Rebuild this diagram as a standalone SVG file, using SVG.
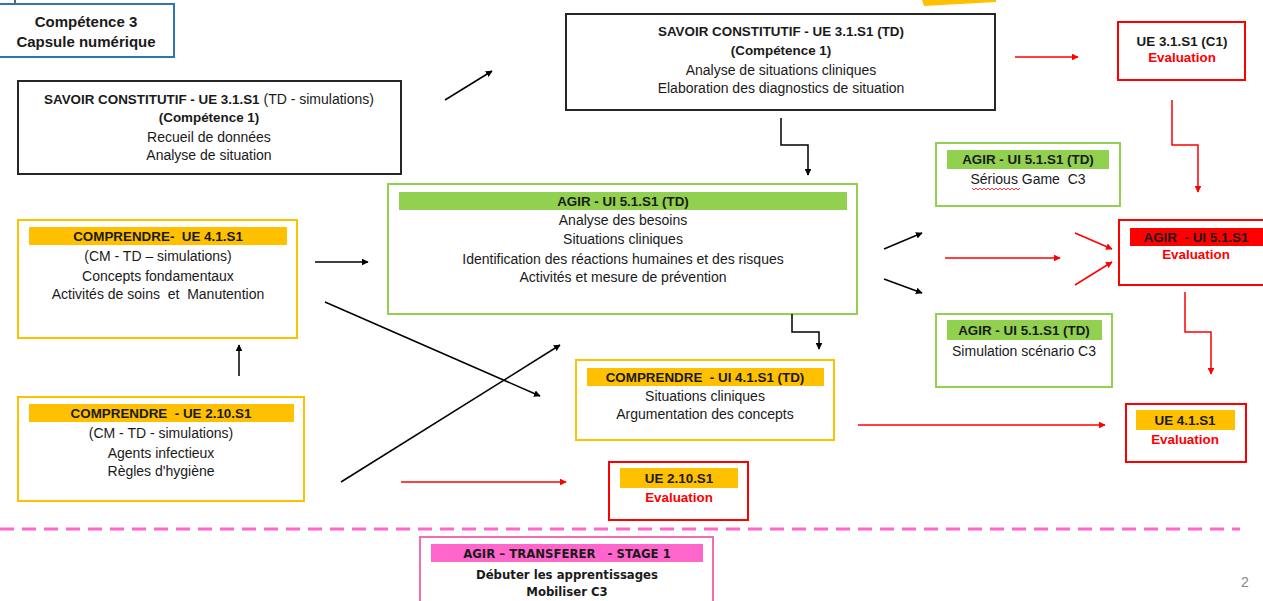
<svg xmlns="http://www.w3.org/2000/svg" width="1263" height="601" viewBox="0 0 1263 601">
<defs>
<marker id="ab" viewBox="0 0 10 10" refX="9" refY="5" markerWidth="4.5" markerHeight="4.5" orient="auto" markerUnits="strokeWidth"><path d="M0,0 L10,5 L0,10 z" fill="#000"/></marker>
<marker id="ar" viewBox="0 0 10 10" refX="9" refY="5" markerWidth="4.5" markerHeight="4.5" orient="auto" markerUnits="strokeWidth"><path d="M0,0 L10,5 L0,10 z" fill="#FF0000"/></marker>
</defs>
<style>
text{font-family:"Liberation Sans",Arial,sans-serif;font-size:14px;fill:#1a1a1a;text-anchor:middle;white-space:pre}
.b{font-weight:bold;font-size:13.4px}
.r{fill:#FF0000;font-weight:bold;font-size:13.4px}
.bk{fill:#fff;stroke:#262626;stroke-width:2}
.yb{fill:#fff;stroke:#FFC000;stroke-width:2}
.gb{fill:#fff;stroke:#92D050;stroke-width:2}
.rb{fill:#fff;stroke:#FF0000;stroke-width:2}
.yh{fill:#FFC000}
.gh{fill:#92D050}
.cb{fill:none;stroke:#000;stroke-width:1.5;marker-end:url(#ab)}
.cr{fill:none;stroke:#FF0000;stroke-width:1.5;marker-end:url(#ar)}
.n{font-family:"Liberation Sans Narrow","DejaVu Sans Condensed",sans-serif;font-weight:bold;font-size:13px}
</style>
<rect width="1263" height="601" fill="#fff"/>
<polygon points="922,0 996,0 996,2 924,6" fill="#FFC000"/>
<line x1="15" y1="0" x2="15" y2="4" stroke="#333" stroke-width="1.5"/>

<g id="competence3">
<rect x="-2" y="4" width="176" height="53" fill="#fff" stroke="#2E75B6" stroke-width="2"/>
<text x="86" y="27" class="b" style="font-size:15px">Compétence 3</text>
<text x="86" y="47" class="b" style="font-size:15px">Capsule numérique</text>
</g>

<g id="savoir1">
<rect x="18" y="81" width="383" height="93" class="bk"/>
<text x="209" y="104"><tspan class="b">SAVOIR CONSTITUTIF - UE 3.1.S1</tspan> (TD - simulations)</text>
<text x="209" y="122" class="b">(Compétence 1)</text>
<text x="209" y="142">Recueil de données</text>
<text x="209" y="160">Analyse de situation</text>
</g>

<g id="savoir2">
<rect x="566" y="14" width="429" height="96" class="bk"/>
<text x="781" y="36" class="b">SAVOIR CONSTITUTIF - UE 3.1.S1 (TD)</text>
<text x="781" y="55" class="b">(Compétence 1)</text>
<text x="781" y="75">Analyse de situations cliniques</text>
<text x="781" y="93">Elaboration des diagnostics de situation</text>
</g>

<g id="eval31">
<rect x="1118" y="22" width="127" height="58" class="rb"/>
<text x="1182" y="46" class="b">UE 3.1.S1 (C1)</text>
<text x="1182" y="62" class="r">Evaluation</text>
</g>

<g id="agir">
<rect x="388" y="184" width="469" height="130" class="gb"/>
<rect x="399" y="192" width="448" height="18" class="gh"/>
<text x="623" y="206" class="b">AGIR - UI 5.1.S1 (TD)</text>
<text x="623" y="225">Analyse des besoins</text>
<text x="623" y="244">Situations cliniques</text>
<text x="623" y="264">Identification des réactions humaines et des risques</text>
<text x="623" y="282">Activités et mesure de prévention</text>
</g>

<g id="comprendre41">
<rect x="18" y="220" width="279" height="118" class="yb"/>
<rect x="29" y="227" width="258" height="18" class="yh"/>
<text x="158" y="241" class="b">COMPRENDRE-  UE 4.1.S1</text>
<text x="158" y="261">(CM - TD – simulations)</text>
<text x="158" y="281">Concepts fondamentaux</text>
<text x="158" y="299">Activités de soins  et  Manutention</text>
</g>

<g id="comprendre210">
<rect x="18" y="397" width="286" height="104" class="yb"/>
<rect x="29" y="404" width="265" height="18" class="yh"/>
<text x="161" y="418" class="b">COMPRENDRE  - UE 2.10.S1</text>
<text x="161" y="438">(CM - TD - simulations)</text>
<text x="161" y="458">Agents infectieux</text>
<text x="161" y="476">Règles d'hygiène</text>
</g>

<g id="comprendreUI41">
<rect x="576" y="360" width="258" height="80" class="yb"/>
<rect x="587" y="368" width="237" height="18" class="yh"/>
<text x="705" y="382" class="b">COMPRENDRE  - UI 4.1.S1 (TD)</text>
<text x="705" y="401">Situations cliniques</text>
<text x="705" y="419">Argumentation des concepts</text>
</g>

<g id="serious">
<rect x="936" y="143" width="184" height="63" class="gb"/>
<rect x="947" y="150" width="162" height="19" class="gh"/>
<text x="1028" y="164" class="b">AGIR - UI 5.1.S1 (TD)</text>
<text x="1028" y="184">Sérious Game  C3</text>
<path d="M972,188 l2,2 l2,-2 l2,2 l2,-2 l2,2 l2,-2 l2,2 l2,-2 l2,2 l2,-2 l2,2 l2,-2 l2,2 l2,-2 l2,2 l2,-2 l2,2 l2,-2 l2,2 l2,-2 l2,2 l2,-2 l2,2 l2,-2" fill="none" stroke="#FF0000" stroke-width="0.8"/>
</g>

<g id="simulation">
<rect x="936" y="314" width="176" height="73" class="gb"/>
<rect x="947" y="320" width="155" height="20" class="gh"/>
<text x="1024" y="335" class="b">AGIR - UI 5.1.S1 (TD)</text>
<text x="1024" y="356">Simulation scénario C3</text>
</g>

<g id="evalAgir">
<rect x="1119" y="220" width="150" height="65" class="rb"/>
<rect x="1130" y="228" width="140" height="18" fill="#FF0000"/>
<text x="1196" y="242" class="b">AGIR  - UI 5.1.S1</text>
<text x="1196" y="259" class="r">Evaluation</text>
</g>

<g id="eval41">
<rect x="1126" y="404" width="120" height="58" class="rb"/>
<rect x="1136" y="410" width="99" height="20" class="yh"/>
<text x="1185" y="425" class="b">UE 4.1.S1</text>
<text x="1185" y="444" class="r">Evaluation</text>
</g>

<g id="eval210">
<rect x="609" y="462" width="139" height="58" class="rb"/>
<rect x="620" y="468" width="118" height="20" class="yh"/>
<text x="679" y="483" class="b">UE 2.10.S1</text>
<text x="679" y="502" class="r">Evaluation</text>
</g>

<line x1="0" y1="529" x2="1240" y2="529" stroke="#FF66CC" stroke-width="3" stroke-dasharray="14,8"/>

<g id="stage">
<rect x="420" y="537" width="293" height="70" fill="#fff" stroke="#F06EB4" stroke-width="2"/>
<rect x="431" y="544" width="272" height="18" fill="#FF66CC"/>
<text x="567" y="558" class="n">AGIR – TRANSFERER   - STAGE 1</text>
<text x="567" y="579" class="n">Débuter les apprentissages</text>
<text x="567" y="596" class="n">Mobiliser C3</text>
</g>

<text x="1245" y="587" style="fill:#888;font-size:14px">2</text>

<g id="connectors">
<line x1="445" y1="100" x2="492" y2="71" class="cb"/>
<path d="M781,118 V145 H808 V175" class="cb"/>
<line x1="315" y1="262" x2="368" y2="262" class="cb"/>
<line x1="239" y1="376" x2="239" y2="345" class="cb"/>
<line x1="325" y1="302" x2="540" y2="396" class="cb"/>
<line x1="341" y1="482" x2="560" y2="345" class="cb"/>
<path d="M792,314 V332 H819 V349" class="cb"/>
<line x1="884" y1="249" x2="922" y2="233" class="cb"/>
<line x1="884" y1="279" x2="922" y2="293" class="cb"/>
<line x1="1015" y1="57" x2="1078" y2="57" class="cr"/>
<path d="M1172,100 V145 H1198 V192" class="cr"/>
<line x1="945" y1="258" x2="1060" y2="258" class="cr"/>
<line x1="1075" y1="233" x2="1112" y2="249" class="cr"/>
<line x1="1075" y1="285" x2="1112" y2="262" class="cr"/>
<path d="M1185,292 V332 H1211 V374" class="cr"/>
<line x1="858" y1="425" x2="1105" y2="425" class="cr"/>
<line x1="401" y1="482" x2="566" y2="482" class="cr"/>
</g>
</svg>
